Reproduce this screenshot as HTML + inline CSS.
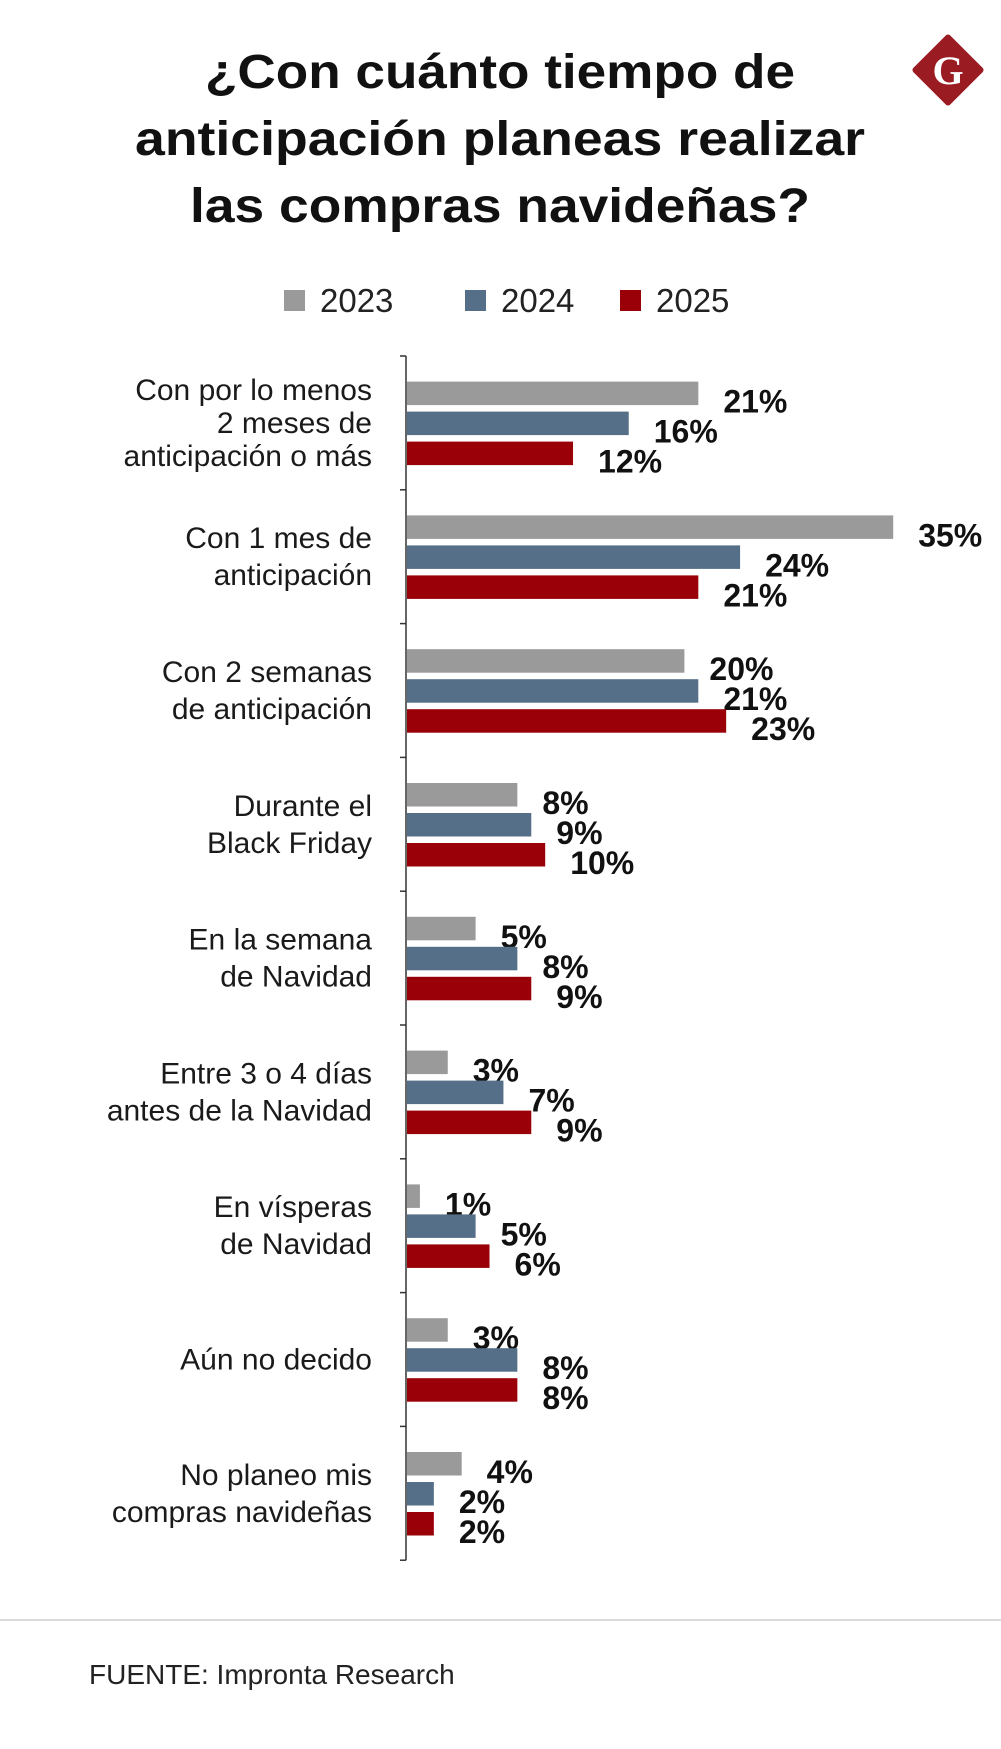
<!DOCTYPE html>
<html><head><meta charset="utf-8">
<style>
html,body{margin:0;padding:0;background:#fff;}
body{width:1001px;height:1744px;overflow:hidden;}
svg text{font-family:"Liberation Sans Narrow","Liberation Sans",sans-serif;}
</style></head>
<body>
<svg id="chart" width="1001" height="1744" viewBox="0 0 1001 1744" xmlns="http://www.w3.org/2000/svg">
  <g font-weight="bold" font-size="48" text-anchor="middle" fill="#111">
    <text x="500" y="88" style="font-family:'Liberation Sans',sans-serif" textLength="590" lengthAdjust="spacingAndGlyphs">¿Con cuánto tiempo de</text>
    <text x="500" y="155" style="font-family:'Liberation Sans',sans-serif" textLength="730" lengthAdjust="spacingAndGlyphs">anticipación planeas realizar</text>
    <text x="500" y="222" style="font-family:'Liberation Sans',sans-serif" textLength="620" lengthAdjust="spacingAndGlyphs">las compras navideñas?</text>
  </g>
  <g>
    <rect x="922" y="44" width="52" height="52" fill="#9b1b22" transform="rotate(45 948 70)" rx="3"/>
    <text x="948" y="84" text-anchor="middle" font-size="40" font-weight="bold" fill="#fff" style="font-family:'Liberation Serif',serif">G</text>
  </g>
  <g id="legend"></g>
  <g id="plot"></g>
  <line x1="0" y1="1620" x2="1001" y2="1620" stroke="#cfcfcf" stroke-width="1.5"/>
  <text x="89" y="1684" font-size="28" fill="#222">FUENTE: Impronta Research</text>
</svg>
<script>
const categories = [
  ["Con por lo menos","2 meses de","anticipación o más"],
  ["Con 1 mes de","anticipación"],
  ["Con 2 semanas","de anticipación"],
  ["Durante el","Black Friday"],
  ["En la semana","de Navidad"],
  ["Entre 3 o 4 días","antes de la Navidad"],
  ["En vísperas","de Navidad"],
  ["Aún no decido"],
  ["No planeo mis","compras navideñas"]
];
const seriesNames = ["2023","2024","2025"];
const values2023 = [21,35,20,8,5,3,1,3,4];
const values2024 = [16,24,21,9,8,7,5,8,2];
const values2025 = [12,21,23,10,9,9,6,8,2];
const colors = ["#9a9a9a","#546f87","#990008"];

const NS="http://www.w3.org/2000/svg";
const plot=document.getElementById('plot');
const legend=document.getElementById('legend');
function mk(tag,attrs,parent){const e=document.createElementNS(NS,tag);for(const k in attrs)e.setAttribute(k,attrs[k]);parent.appendChild(e);return e;}

const axisX=406, pxPerPct=13.92, topY=356, groupH=133.8;
const xScale=v=>axisX+v*pxPerPct;
const yGroup=i=>topY+i*groupH;
const series=[values2023,values2024,values2025];

const legX=[284,465,620];
seriesNames.forEach((n,i)=>{
  const r=mk('rect',{x:legX[i],y:290,width:21,height:21,fill:colors[i]},legend);
  
  
  const t=mk('text',{x:legX[i]+36,y:312,'font-size':33,fill:'#222',style:"font-family:'Liberation Sans',sans-serif"},legend);
  t.textContent=n;
  
  
});

const ax=mk('line',{x1:axisX,y1:topY,x2:axisX,y2:yGroup(categories.length),stroke:'#333','stroke-width':1.5},plot);


for(let i=0;i<=categories.length;i++){
  const tk=mk('line',{x1:axisX-6,y1:yGroup(i),x2:axisX,y2:yGroup(i),stroke:'#333','stroke-width':1.5},plot);
  
  
}

categories.forEach((lines,i)=>{
  const g0=yGroup(i);
  const center=g0+groupH/2;
  const lh=lines.length>2?33:37;
  const t=mk('text',{x:372,'font-size':30,fill:'#1a1a1a','text-anchor':'end'},plot);
  
  
  lines.forEach((ln,j)=>{
    const ts=mk('tspan',{x:372,y:center-(lines.length-1)*lh/2+j*lh+10},t);
    ts.textContent=ln;
  });
  series.forEach((vals,s)=>{
    const by=g0+25.6+s*30;
    const b=mk('rect',{x:axisX+1,y:by,width:xScale(vals[i])-axisX-1,height:23.5,fill:colors[s]},plot);
    
    
    const l=mk('text',{x:xScale(vals[i])+25,y:by+31,'font-size':32,'font-weight':'bold',fill:'#111',style:"font-family:'Liberation Sans',sans-serif"},plot);
    l.textContent=vals[i]+'%';
    
    
  });
});
</script>
</body></html>
